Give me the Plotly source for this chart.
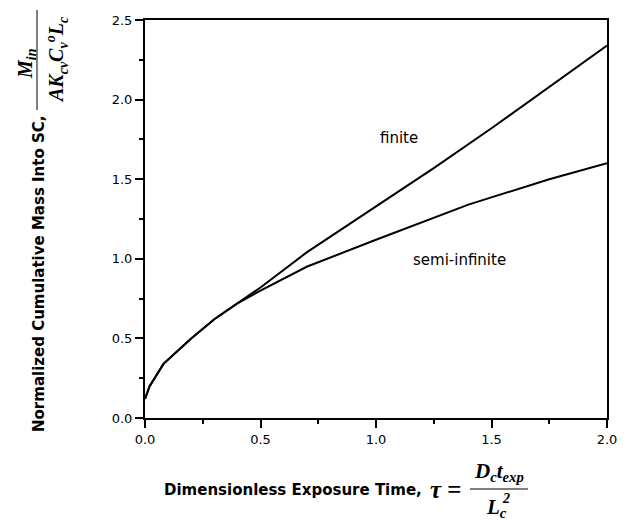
import plotly.graph_objects as go

# Data
tau_semi = [0.0, 0.02, 0.08, 0.2, 0.3, 0.4, 0.5, 0.7, 1.0, 1.4, 1.75, 2.0]
m_semi = [0.12, 0.2, 0.34, 0.5, 0.62, 0.72, 0.8, 0.95, 1.12, 1.34, 1.5, 1.6]
tau_fin = [0.0, 0.02, 0.08, 0.2, 0.3, 0.4, 0.5, 0.7, 1.0, 1.25, 1.5, 1.75, 2.0]
m_fin = [0.12, 0.2, 0.34, 0.5, 0.62, 0.72, 0.82, 1.04, 1.33, 1.57, 1.82, 2.08, 2.34]
x_ticks = [0.0, 0.5, 1.0, 1.5, 2.0]
y_ticks = [0.0, 0.5, 1.0, 1.5, 2.0, 2.5]

W, H = 629, 521
L, R, T, B = 145, 22, 20, 103
PW, PH = W - L - R, H - T - B


def px(xp):
    return (xp - L) / PW


def py(yp):
    return (H - B - yp) / PH


SANS = "DejaVu Sans"
SERIF = "Liberation Serif"

fig = go.Figure()
fig.add_trace(go.Scatter(x=tau_fin, y=m_fin, mode="lines",
                         line=dict(color="black", width=2), showlegend=False))
fig.add_trace(go.Scatter(x=tau_semi, y=m_semi, mode="lines",
                         line=dict(color="black", width=2), showlegend=False))

axis_common = dict(showgrid=False, zeroline=False, showline=True, linecolor="black",
                   linewidth=2, mirror=True, ticks="outside", ticklen=8, tickwidth=1.5,
                   tickcolor="black", tickfont=dict(family=SANS, size=13, color="black"),
                   minor=dict(ticks="outside", ticklen=4, tickwidth=1.5, tickcolor="black",
                              dtick=0.25))

fig.update_xaxes(range=[0, 2.0], tickvals=x_ticks,
                 ticktext=[f"{v:.1f}" for v in x_ticks], **axis_common)
fig.update_yaxes(range=[0, 2.5], tickvals=y_ticks,
                 ticktext=[f"{v:.1f}" for v in y_ticks], **axis_common)

ann = []
# curve labels
ann.append(dict(x=1.1, y=1.76, xref="x", yref="y", text="finite", showarrow=False,
                font=dict(family=SANS, size=15, color="black")))
ann.append(dict(x=1.36, y=0.99, xref="x", yref="y", text="semi-infinite", showarrow=False,
                font=dict(family=SANS, size=15, color="black")))

# y-axis label
ann.append(dict(x=px(39), y=py(274), xref="paper", yref="paper",
                text="<b>Normalized Cumulative Mass Into SC,</b>", textangle=-90,
                showarrow=False, xanchor="center", yanchor="middle",
                font=dict(family=SANS, size=15, color="black")))
ann.append(dict(x=px(26), y=py(64), xref="paper", yref="paper",
                text="<b><i>M<sub>in</sub></i></b>", textangle=-90,
                showarrow=False, xanchor="center", yanchor="middle",
                font=dict(family=SERIF, size=20, color="black")))
ann.append(dict(x=px(57), y=py(60), xref="paper", yref="paper",
                text="<b><i>AK<sub>cv</sub>C<sub>v</sub><sup>o</sup>L<sub>c</sub></i></b>",
                textangle=-90, showarrow=False, xanchor="center", yanchor="middle",
                font=dict(family=SERIF, size=20, color="black")))

# x-axis label
ann.append(dict(x=px(424), y=py(490), xref="paper", yref="paper",
                text="<b>Dimensionless Exposure Time,</b>", showarrow=False,
                xanchor="right", yanchor="middle",
                font=dict(family=SANS, size=15, color="black")))
ann.append(dict(x=px(428), y=py(489), xref="paper", yref="paper",
                text="<b><i>τ</i> =</b>", showarrow=False,
                xanchor="left", yanchor="middle",
                font=dict(family=SERIF, size=25, color="black")))
ann.append(dict(x=px(499), y=py(472), xref="paper", yref="paper",
                text="<b><i>D<sub>c</sub>t<sub>exp</sub></i></b>", showarrow=False,
                xanchor="center", yanchor="middle",
                font=dict(family=SERIF, size=21, color="black")))
ann.append(dict(x=px(496), y=py(508), xref="paper", yref="paper",
                text="<b><i>L<sub>c</sub></i></b>", showarrow=False,
                xanchor="center", yanchor="middle",
                font=dict(family=SERIF, size=21, color="black")))
ann.append(dict(x=px(506), y=py(498), xref="paper", yref="paper",
                text="<b><i>2</i></b>", showarrow=False,
                xanchor="center", yanchor="middle",
                font=dict(family=SERIF, size=14, color="black")))

shapes = [
    dict(type="line", xref="paper", yref="paper", x0=px(37), x1=px(37),
         y0=py(10), y1=py(110), line=dict(color="black", width=1)),
    dict(type="line", xref="paper", yref="paper", x0=px(470), x1=px(528),
         y0=py(489), y1=py(489), line=dict(color="black", width=1)),
]

fig.update_layout(width=W, height=H, margin=dict(l=L, r=R, t=T, b=B),
                  plot_bgcolor="white", paper_bgcolor="white",
                  annotations=ann, shapes=shapes, showlegend=False)

fig.write_html("out.html")
